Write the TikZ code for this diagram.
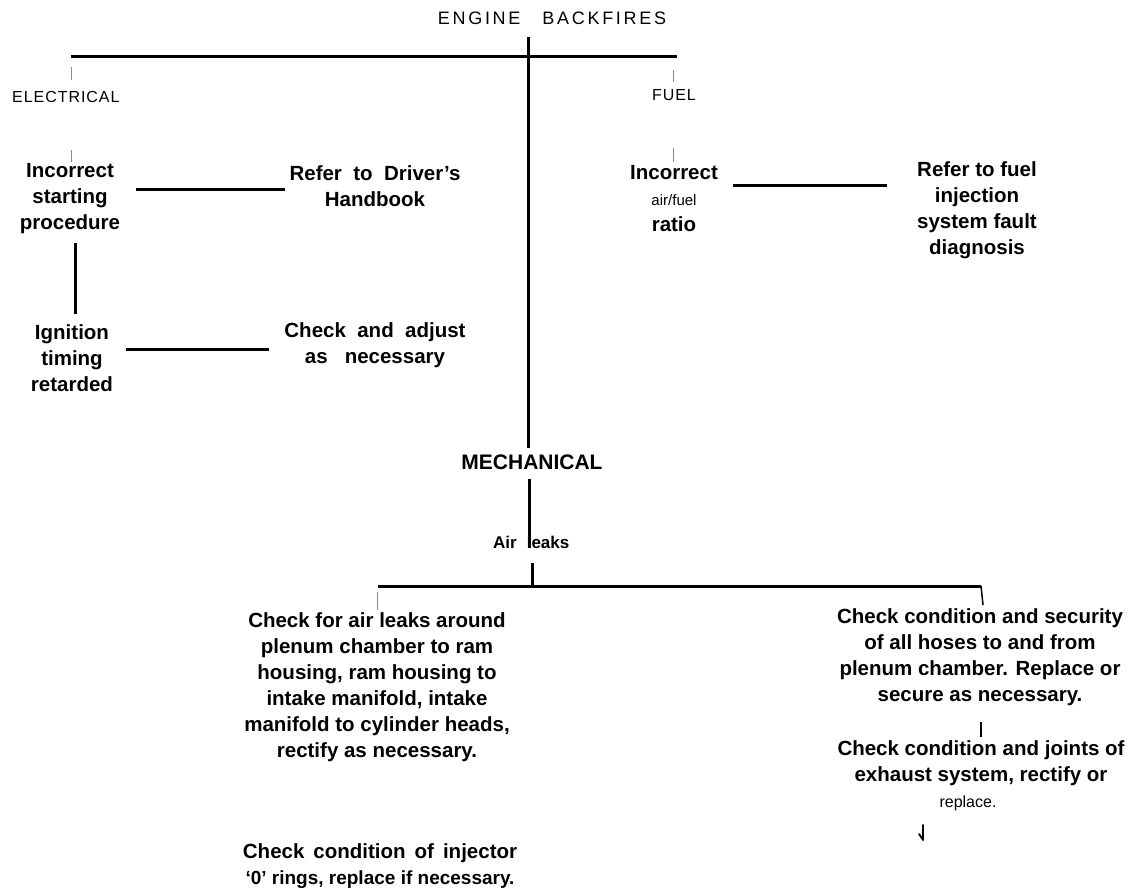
\documentclass[tikz,border=0pt]{standalone}
\usepackage{fontspec}
\setmainfont{Liberation Sans}
\newfontfamily\titlefont[LetterSpace=15]{Liberation Sans}
\newfontfamily\headfont[LetterSpace=6]{Liberation Sans}
\begin{document}
\begin{tikzpicture}[x=1pt,y=-1pt,
  body/.style={align=center,inner sep=0pt,font=\fontsize{20.5}{26}\selectfont\bfseries},
  head/.style={inner sep=0pt,font=\fontsize{16}{18}\selectfont\headfont},
  thick line/.style={line width=3pt},
  tick/.style={line width=0.6pt,draw=black!45}]
\useasboundingbox (0,0) rectangle (1140,893);

% headings
\node[inner sep=0pt,font=\fontsize{18}{20}\selectfont\titlefont] (title) at (552,18) {ENGINE\hspace{22pt}BACKFIRES};
\node[head,anchor=west] (elec) at (12,97) {ELECTRICAL};
\node[head] (fuel) at (674,95) {FUEL};
\node[inner sep=0pt,font=\fontsize{21}{22}\selectfont\bfseries] (mech) at (532,462) {MECHANICAL};

% electrical branch
\node[body] (isp) at (70,199) {Incorrect\\starting\\procedure};
\node[body] (rdh) at (375,186) {Refer\ \ to\ \ Driver's\\Handbook};
\node[body] (itr) at (72,358) {Ignition\\timing\\retarded};
\node[body] (caa) at (375,345) {Check\ \ and\ \ adjust\\as\ \ \ necessary};

% fuel branch
\node[body] (iaf) at (674,199) {Incorrect\\{\fontsize{15}{26}\selectfont\mdseries air/fuel}\\ratio};
\node[body] (rfi) at (977,210) {Refer\ to\ fuel\\injection\\system fault\\diagnosis};

% mechanical branch
\node[inner sep=0pt,anchor=west,font=\fontsize{17}{20}\selectfont\bfseries] (air) at (493,542) {Air\hspace{10pt}leaks};
\node[body] (cal) at (377,687) {Check for air leaks around\\plenum chamber to ram\\housing, ram housing to\\intake manifold, intake\\manifold to cylinder heads,\\rectify as necessary.};
\node[body] (cci) at (380,866) {Check\hspace{9pt}condition\hspace{9pt}of\hspace{9pt}injector\\{\fontsize{19}{26}\selectfont `0' rings, replace if necessary.}};
\node[body] (cch) at (980,657) {Check condition and security\\of all hoses to and from\\plenum chamber. Replace or\\secure as necessary.};
\node[body] (cce) at (981,776) {Check condition and joints of\\exhaust system, rectify or\\\hspace*{-26pt}{\fontsize{16}{26}\selectfont\mdseries replace.}};

% coordinates for connector ends
\coordinate (top) at (528,37);
\coordinate (tl) at (71,57);
\coordinate (tr) at (677,57);
\coordinate (vend) at (528,448);
\coordinate (ml) at (378,586);
\coordinate (mr) at (981,586);
\coordinate (mm) at (532,586);

% main tree
\draw[thick line] (tl) -- (tr);
\draw[thick line] (top) -- (vend);
\draw[tick] (71,67) -- (71,80);
\draw[tick] (673,70) -- (673,82);
\draw[tick] (71,150) -- (71,162);
\draw[tick] (673,148) -- (673,162);

% electrical
\draw[thick line] (136,190) -- (285,190);
\draw[thick line] (75,243) -- (75,314);
\draw[thick line] (126,349) -- (269,349);
% fuel
\draw[thick line] (733,186) -- (887,186);

% mechanical
\draw[thick line] (529,479) -- (529,548);
\draw[thick line] (532,563) -- (mm);
\draw[thick line] (ml) -- (mr);
\draw[tick] (377,592) -- (377,610);
\draw[line width=1.5pt] (mr) -- (983,605);
\draw[line width=1.5pt] (981,722) -- (981,737);
\draw[line width=1.8pt,line cap=round,line join=round] (923,825) -- (923,840) -- (919,834);
\end{tikzpicture}
\end{document}
